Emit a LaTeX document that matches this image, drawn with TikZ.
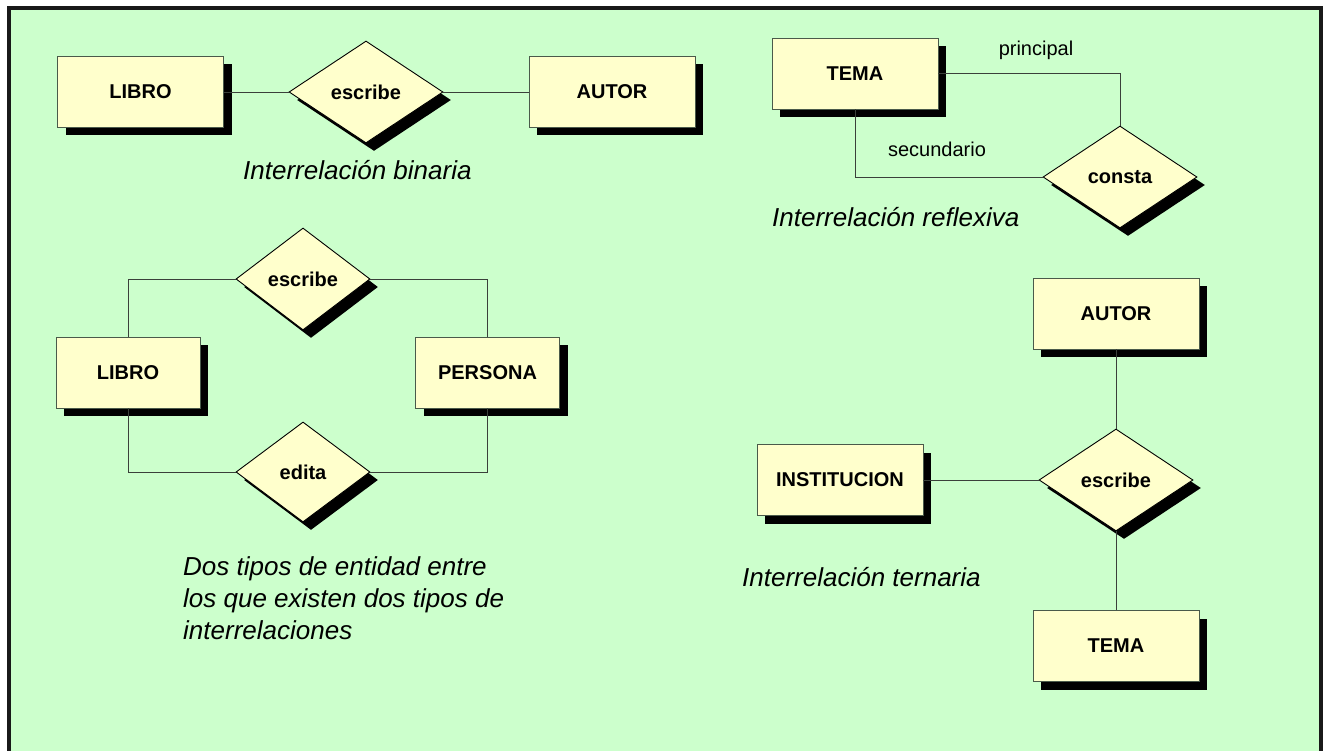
\documentclass[tikz,border=0pt]{standalone}
\usepackage{fontspec}
\setmainfont{Liberation Sans}
\setsansfont{Liberation Sans}
\usetikzlibrary{shapes.geometric,shadows}
\definecolor{bggreen}{HTML}{CCFFCC}
\definecolor{boxyellow}{HTML}{FFFFCC}
\definecolor{boxline}{HTML}{4A5A4A}
\definecolor{conline}{HTML}{3A403A}
\tikzset{
  shadowed/.style={drop shadow={shadow xshift=8pt,shadow yshift=-8pt,opacity=1,fill=black}},
  entity/.style={rectangle,draw=boxline,line width=0.9pt,fill=boxyellow,shadowed,
    minimum width=166pt,minimum height=71pt,inner sep=0pt,
    font=\fontsize{20}{24}\selectfont\bfseries},
  narrowentity/.style={entity,minimum width=144pt},
  relation/.style={diamond,draw=black,line width=0.9pt,fill=boxyellow,shadowed,
    minimum width=154pt,minimum height=102pt,inner sep=0pt,
    font=\fontsize{20}{24}\selectfont\bfseries},
  narrowrelation/.style={relation,minimum width=134pt},
  conn/.style={draw=conline,line width=0.9pt},
  rolelabel/.style={inner sep=0pt,font=\fontsize{20}{24}\selectfont},
  caption/.style={inner sep=0pt,anchor=base west,font=\fontsize{26}{32}\selectfont\itshape},
}
\begin{document}
\begin{tikzpicture}[x=1pt,y=-1pt]
\useasboundingbox (0,0) rectangle (1326,751);
\clip (0,0) rectangle (1326,751);
\fill[white] (0,0) rectangle (1326,751);
\draw[line width=4pt,draw=black!90,fill=bggreen] (8.5,8.5) rectangle (1321,775);

% binaria
\node[entity] (libroA) at (140.5,92) {LIBRO};
\node[relation] (escribeA) at (366,92) {escribe};
\node[entity] (autorA) at (612,92) {AUTOR};
\draw[conn] (libroA.east) -- (escribeA.west);
\draw[conn] (escribeA.east) -- (autorA.west);
\node[caption] (capA) at (243,180) {Interrelación binaria};

% reflexiva
\node[entity] (temaB) at (855,73.5) {TEMA};
\node[relation] (consta) at (1120,177) {consta};
\draw[conn] (temaB.east) -| (consta.north);
\draw[conn] (temaB.south) |- (consta.west);
\node[rolelabel] (principal) at (1036,50) {principal};
\node[rolelabel] (secundario) at (937,149) {secundario};
\node[caption] (capB) at (772,227) {Interrelación reflexiva};

% dos tipos
\node[narrowrelation] (escribeC) at (303,279) {escribe};
\node[narrowentity] (libroC) at (128,372.5) {LIBRO};
\node[narrowentity] (persona) at (487.5,372.5) {PERSONA};
\node[narrowrelation,minimum height=100pt] (edita) at (303,472) {edita};
\draw[conn] (libroC.north) |- (escribeC.west);
\draw[conn] (escribeC.east) -| (persona.north);
\draw[conn] (libroC.south) |- (edita.west);
\draw[conn] (edita.east) -| (persona.south);
\node[caption,anchor=north west,align=left] (capC) at (183,556)
  {Dos tipos de entidad entre\\los que existen dos tipos de\\interrelaciones};

% ternaria
\node[entity] (autorD) at (1116,313.5) {AUTOR};
\node[relation] (escribeD) at (1116,480) {escribe};
\node[entity] (institucion) at (840,480) {INSTITUCION};
\node[entity] (temaD) at (1116,646) {TEMA};
\draw[conn] (autorD.south) -- (escribeD.north);
\draw[conn] (institucion.east) -- (escribeD.west);
\draw[conn] (escribeD.south) -- (temaD.north);
\node[caption] (capD) at (742,586) {Interrelación ternaria};
\end{tikzpicture}
\end{document}
